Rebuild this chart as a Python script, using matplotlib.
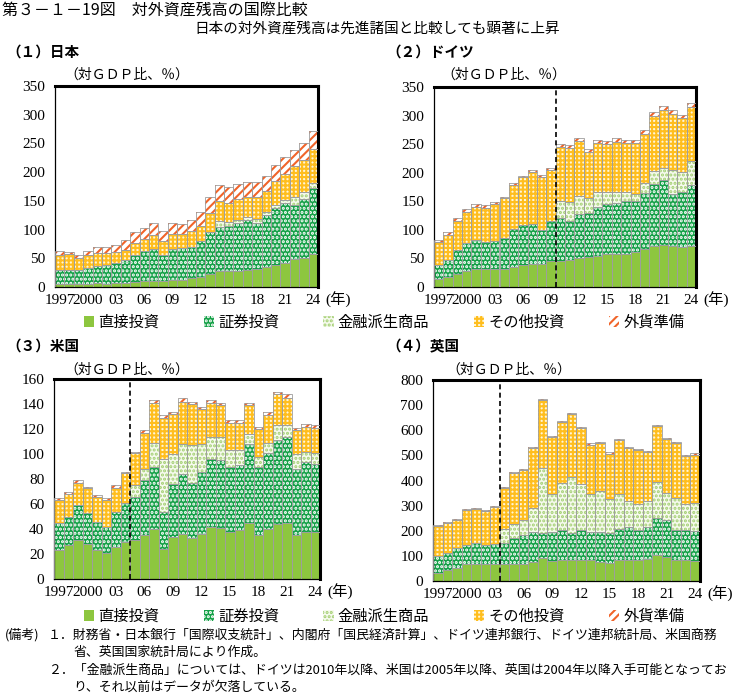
import numpy as np
import matplotlib
matplotlib.use("Agg")
import matplotlib.pyplot as plt
import matplotlib.patches as mpatches

plt.rcParams['hatch.linewidth'] = 1.5
plt.rcParams['font.family'] = ['Liberation Serif', 'Noto Sans CJK JP', 'DejaVu Serif']
JP = ['Noto Sans CJK JP', 'DejaVu Sans']

years = list(range(1997, 2025))
xtick_idx = [0, 3, 6, 9, 12, 15, 18, 21, 24, 27]
xtick_labels = ['1997', '2000', '03', '06', '09', '12', '15', '18', '21', '24']

components = ['直接投資', '証券投資', '金融派生商品', 'その他投資', '外貨準備']

# Japan
jp_direct = [6,6,5,6,7,6,7,7,9,10,11,11,13,13,15,18,23,27,27,28,30,31,35,38,41,48,51,57]
jp_sec = [23,23,24,27,30,32,35,40,46,52,55,44,54,55,54,62,72,77,79,83,86,81,90,99,105,95,103,115]
jp_deriv = [0]*17 + [11,7,6,6,6,5,6,6,13,11,9]
jp_other = [27,28,22,22,23,21,19,18,21,22,25,25,25,24,28,27,34,35,33,37,35,38,38,42,45,54,56,59]
jp_res = [7,4,4,8,10,10,12,16,19,19,21,18,19,18,20,24,28,28,28,26,26,26,26,27,29,29,30,31]

# Germany
de_direct = [14,17,22,28,32,31,31,32,35,38,40,40,45,46,48,51,52,55,57,58,58,62,66,71,73,72,70,71]
de_sec = [24,31,43,49,51,47,49,53,67,71,70,60,70,74,67,76,78,85,88,89,92,88,99,109,114,91,96,107]
de_deriv = [0]*13 + [30,33,33,25,27,21,19,17,13,17,23,21,42,36,42]
de_other = [41,43,50,55,57,60,65,70,76,83,92,92,90,95,96,95,82,85,85,88,85,89,86,97,102,98,94,95]
de_res = [4,5,5,5,5,5,4,3,4,3,3,4,4,5,4,6,5,5,5,6,5,5,6,7,6,7,5,7]

# United States
us_direct = [23,27,31,28,23,21,26,30,31,35,40,24,34,36,33,36,42,41,38,39,45,35,40,44,45,35,38,38]
us_sec = [22,23,28,25,23,21,28,31,35,44,50,30,42,48,44,50,54,54,52,52,63,55,61,67,69,53,56,54]
us_deriv = [0]*8 + [9,9,19,42,24,24,30,22,18,19,13,12,8,8,8,12,9,12,8,9]
us_other = [18,18,18,20,20,21,19,24,26,29,32,33,32,34,33,28,27,25,22,22,23,22,22,25,22,19,20,20]
us_res = [2,2,2,1,1,2,2,1,1,2,2,2,2,3,2,2,2,2,2,2,2,2,3,2,3,2,2,2]

# United Kingdom
uk_direct = [33,42,53,68,68,68,68,66,68,68,74,90,80,82,82,82,82,75,73,82,84,82,87,102,96,84,84,78]
uk_sec = [65,71,80,77,84,75,78,86,104,114,121,103,116,121,110,119,115,120,120,126,132,121,128,148,147,119,119,122]
uk_deriv = [0]*7 + [53,56,61,95,257,149,189,222,184,148,165,132,140,102,102,103,145,107,127,104,110]
uk_other = [122,117,111,138,134,135,148,167,200,200,241,270,227,240,249,222,198,190,182,212,212,217,195,221,215,220,190,193]
uk_res = [3,3,3,3,3,3,3,4,4,4,4,4,4,4,5,5,5,5,5,5,5,5,5,6,5,5,5,5]

styles = [
    dict(face='#8DC63F', hatch=None, hc='#8DC63F'),
    dict(face='#14A047', hatch='....', hc='#FFFFFF'),
    dict(face='#F6FAEE', hatch='....', hc='#A3CF72'),
    dict(face='#FFF6DA', hatch='++++', hc='#FFBE1E'),
    dict(face='#FFFFFF', hatch='////', hc='#F0642A'),
]

panels = [
    dict(title='（１）日本', data=[jp_direct, jp_sec, jp_deriv, jp_other, jp_res],
         rect=[55/749, 1-287/698, 263/749, 201/698], ylim=350, step=50, dash=None,
         tx=6, ty=52, ux=64, uy=75),
    dict(title='（２）ドイツ', data=[de_direct, de_sec, de_deriv, de_other, de_res],
         rect=[434/749, 1-287/698, 262/749, 200/698], ylim=350, step=50, dash=12.5,
         tx=386, ty=52, ux=441, uy=75),
    dict(title='（３）米国', data=[us_direct, us_sec, us_deriv, us_other, us_res],
         rect=[54/749, 1-579/698, 266/749, 200/698], ylim=160, step=20, dash=7.5,
         tx=6, ty=346, ux=64, uy=370),
    dict(title='（４）英国', data=[uk_direct, uk_sec, uk_deriv, uk_other, uk_res],
         rect=[433/749, 1-581/698, 267/749, 201/698], ylim=800, step=100, dash=6.5,
         tx=386, ty=346, ux=446, uy=370),
]

W, H = 749, 698
fig = plt.figure(figsize=(W/100, H/100), dpi=100)

def fx(px):
    return px / W

def fy(py):
    return 1 - py / H

x = np.arange(len(years))
for p in panels:
    ax = fig.add_axes(p['rect'])
    bottom = np.zeros(len(years))
    for vals, st in zip(p['data'], styles):
        v = np.array(vals, dtype=float)
        m = v > 0
        ax.bar(x[m], v[m], bottom=bottom[m], width=1.0, color=st['face'],
               hatch=st['hatch'], edgecolor=st['hc'], linewidth=0, zorder=2)
        ax.bar(x[m], v[m], bottom=bottom[m], width=1.0, fill=False,
               edgecolor='#9E9E9E', linewidth=0.6, zorder=3)
        bottom = bottom + v
    ax.set_xlim(-0.5, len(years) - 0.5)
    ax.set_ylim(0, p['ylim'])
    ax.set_yticks(np.arange(0, p['ylim'] + 1, p['step']))
    ax.set_xticks(xtick_idx)
    ax.set_xticklabels(xtick_labels)
    ax.tick_params(length=0, labelsize=11)
    ax.tick_params(axis='y', pad=7)
    ax.tick_params(axis='x', pad=5)
    for s in ['left', 'bottom']:
        ax.spines[s].set_linewidth(0.9)
    for s in ['top', 'right']:
        ax.spines[s].set_linewidth(2.2)
    if p['dash'] is not None:
        ax.axvline(p['dash'], color='black', linestyle=(0, (3, 2)), linewidth=1.2, zorder=4)
    ax.annotate('(年)', xy=(1, 0), xycoords='axes fraction', xytext=(5, -9.5),
                textcoords='offset points', ha='left', va='center', fontsize=11)
    fig.text(fx(p['tx']), fy(p['ty']), p['title'], ha='left', va='center',
             fontsize=10.5, fontweight='bold', family=JP)
    fig.text(fx(p['ux']), fy(p['uy']), '（対ＧＤＰ比、％）', ha='left', va='center',
             fontsize=10, family=JP)

fig.text(fx(2), fy(11), '第３－１－19図　対外資産残高の国際比較', ha='left', va='center',
         fontsize=11.5, family=JP)
fig.text(fx(377), fy(29), '日本の対外資産残高は先進諸国と比較しても顕著に上昇', ha='center',
         va='center', fontsize=10.5, family=JP)

handles = [mpatches.Patch(facecolor=st['face'], hatch=st['hatch'], edgecolor=st['hc'],
                          linewidth=0) for st in styles]
for ly in (322, 616):
    fig.legend(handles, components, loc='center', bbox_to_anchor=(fx(384), fy(ly)),
               ncol=5, frameon=False, handlelength=0.7, handleheight=0.7,
               handletextpad=0.25, columnspacing=2.9,
               prop=dict(family=JP, size=11))

notes = [
    (5, 635, '(備考)'),
    (48, 635, '１．財務省・日本銀行「国際収支統計」、内閣府「国民経済計算」、ドイツ連邦銀行、ドイツ連邦統計局、米国商務'),
    (73, 652, '省、英国国家統計局により作成。'),
    (48, 670, '２．「金融派生商品」については、ドイツは2010年以降、米国は2005年以降、英国は2004年以降入手可能となってお'),
    (73, 687, 'り、それ以前はデータが欠落している。'),
]
for nx, ny, t in notes:
    fig.text(fx(nx), fy(ny), t, ha='left', va='center', fontsize=9.3, family=JP)

fig.savefig('out.png', dpi=100)
